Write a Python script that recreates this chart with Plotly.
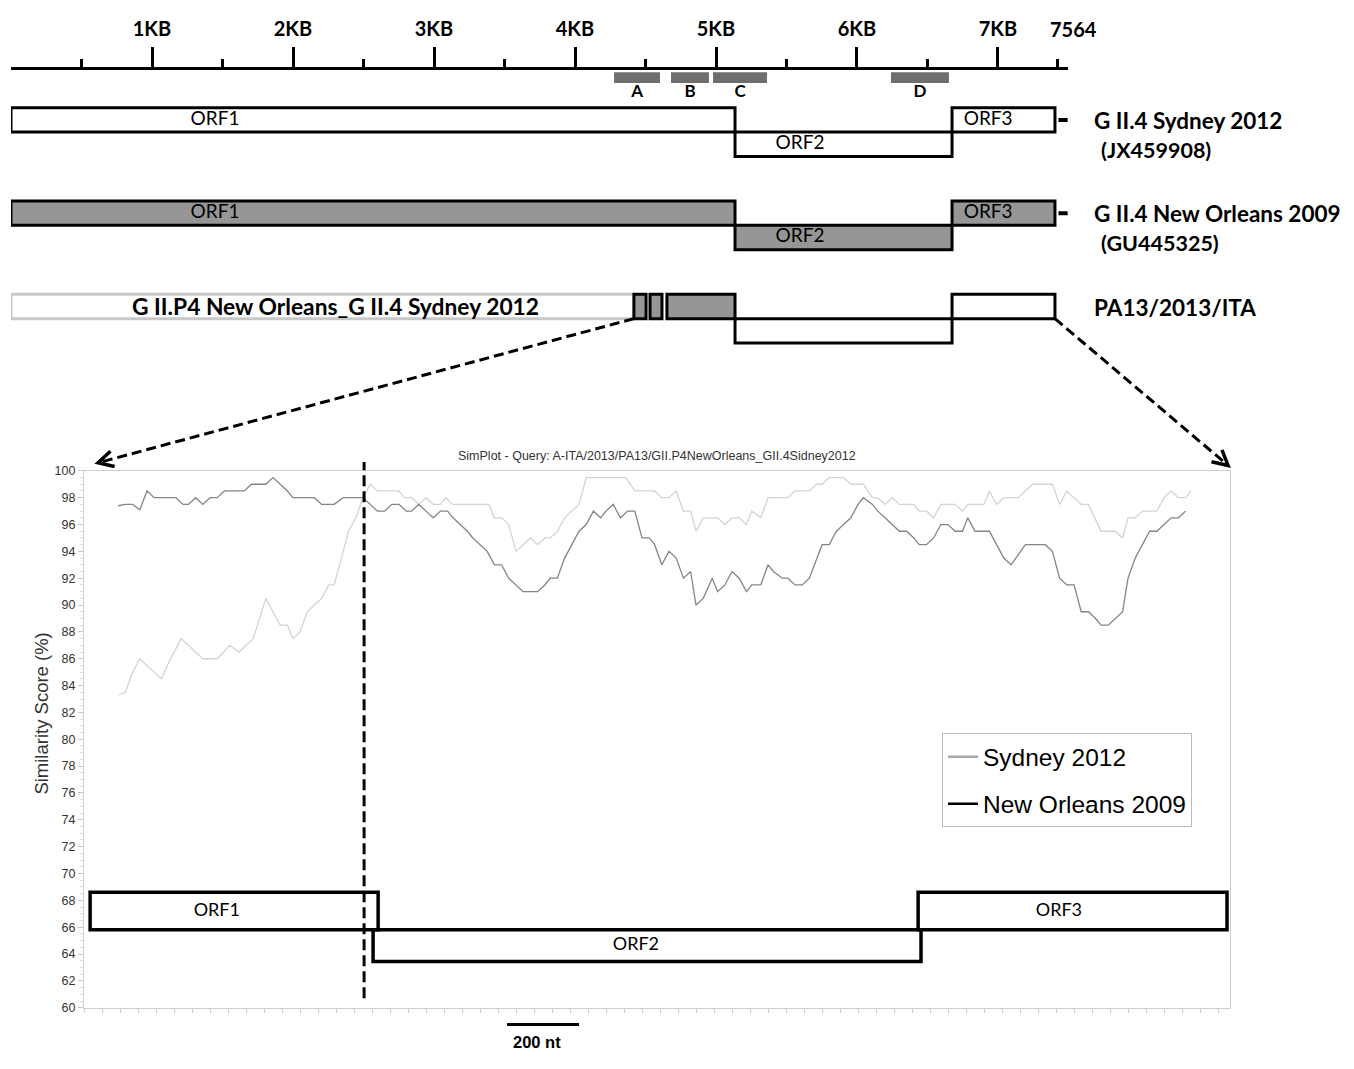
import plotly.graph_objects as go

W, H = 1354, 1069

# ---------------- data ----------------
KB_TICKS = [1000, 2000, 3000, 4000, 5000, 6000, 7000]
KB_LABELS = ["1KB", "2KB", "3KB", "4KB", "5KB", "6KB", "7KB"]
HALF_TICKS = [500, 1500, 2500, 3500, 4500, 5500, 6500, 7420]
GENOME_LEN = 7564

REGION_NAMES = ["A", "B", "C", "D"]
REGION_START = [4277, 4681, 4979, 6241]
REGION_END = [4603, 4950, 5362, 6652]

ORF_NAMES = ["ORF1", "ORF2", "ORF3"]
ORF_START = [0, 5135, 6674]
ORF_END = [5135, 6674, 7404]

STRAINS = ["G II.4 Sydney 2012", "G II.4 New Orleans 2009", "PA13/2013/ITA"]
ACCESSIONS = ["(JX459908)", "(GU445325)", ""]

REC_LABEL = "G II.P4 New Orleans_G II.4 Sydney 2012"
REC_BLOCK_START = [4418, 4532, 4652]
REC_BLOCK_END = [4504, 4617, 5135]

SIM_TITLE = "SimPlot - Query: A-ITA/2013/PA13/GII.P4NewOrleans_GII.4Sidney2012"
SIM_ORF_START = [4397, 5183, 6697]
SIM_ORF_END = [5197, 6705, 7555]
BREAKPOINT = 5158
SCALE_BAR_START = 5555
SCALE_BAR_LEN = 200

sydney_pos = [4475, 4495, 4515, 4535, 4595, 4615, 4650, 4710, 4750, 4785, 4810, 4850, 4885, 4925,
              4945, 4960, 4980, 5000, 5020, 5040, 5060, 5075, 5095, 5115, 5135, 5155, 5175, 5195,
              5235, 5255, 5270, 5290, 5310, 5330, 5350, 5370, 5385, 5405, 5505, 5520, 5540, 5560,
              5580, 5600, 5620, 5640, 5660, 5675, 5695, 5715, 5735, 5755, 5775, 5885, 5910, 5965,
              5985, 6005, 6025, 6045, 6065, 6080, 6100, 6140, 6160, 6180, 6200, 6220, 6235, 6260,
              6280, 6335, 6355, 6395, 6415, 6430, 6450, 6490, 6510, 6545, 6570, 6585, 6605, 6625,
              6645, 6685, 6700, 6720, 6740, 6760, 6800, 6820, 6835, 6880, 6895, 6915, 6935, 6975,
              7015, 7070, 7090, 7110, 7150, 7170, 7205, 7245, 7265, 7280, 7300, 7320, 7360, 7380,
              7400, 7420, 7440, 7455]
sydney_sim = [83.3, 83.5, 85.0, 86.0, 84.5, 85.7, 87.5, 86.0, 86.0, 87.0, 86.5, 87.5, 90.5, 88.5,
              88.5, 87.5, 88.0, 89.5, 90.0, 90.5, 91.5, 91.5, 93.5, 95.5, 96.5, 98.0, 99.0, 98.5,
              98.5, 98.5, 98.0, 98.0, 97.5, 98.0, 97.5, 97.5, 98.0, 97.5, 97.5, 96.5, 96.5, 96.0,
              94.0, 94.5, 95.0, 94.5, 95.0, 95.0, 95.5, 96.5, 97.0, 97.5, 99.5, 99.5, 98.5, 98.5,
              98.0, 98.0, 98.5, 97.0, 97.0, 95.5, 96.5, 96.5, 96.0, 96.5, 96.5, 96.0, 97.0, 96.5,
              98.0, 98.0, 98.5, 98.5, 99.0, 99.0, 99.5, 99.5, 99.0, 99.0, 98.0, 98.0, 97.5, 98.0,
              97.5, 97.5, 97.0, 97.0, 96.5, 97.5, 97.5, 97.0, 97.5, 97.5, 98.5, 97.5, 98.0, 98.0,
              99.0, 99.0, 97.5, 98.5, 97.5, 97.5, 95.5, 95.5, 95.0, 96.5, 96.5, 97.0, 97.0, 98.0,
              98.5, 98.0, 98.0, 98.5]

neworl_pos = [4475, 4495, 4515, 4535, 4555, 4575, 4635, 4655, 4670, 4690, 4710, 4730, 4750, 4770,
              4825, 4845, 4885, 4905, 4925, 4945, 4960, 5020, 5040, 5075, 5100, 5155, 5175, 5195,
              5215, 5235, 5255, 5275, 5290, 5310, 5330, 5350, 5370, 5390, 5405, 5425, 5445, 5460,
              5480, 5500, 5520, 5540, 5560, 5580, 5600, 5640, 5660, 5675, 5695, 5715, 5735, 5755,
              5775, 5795, 5815, 5830, 5850, 5870, 5890, 5910, 5930, 5950, 5965, 5985, 6005, 6025,
              6045, 6065, 6080, 6100, 6125, 6140, 6160, 6180, 6200, 6220, 6235, 6260, 6280, 6295,
              6320, 6335, 6355, 6375, 6395, 6415, 6430, 6450, 6470, 6490, 6510, 6530, 6545, 6570,
              6585, 6605, 6625, 6645, 6665, 6685, 6700, 6720, 6740, 6760, 6780, 6800, 6820, 6835,
              6855, 6895, 6915, 6935, 6955, 6975, 6995, 7050, 7070, 7090, 7110, 7130, 7150, 7170,
              7190, 7205, 7225, 7245, 7265, 7280, 7300, 7320, 7340, 7360, 7380, 7400, 7420, 7440]
neworl_sim = [97.4, 97.5, 97.5, 97.1, 98.5, 98.0, 98.0, 97.5, 97.5, 98.0, 97.5, 98.0, 98.0, 98.5,
              98.5, 99.0, 99.0, 99.5, 99.0, 98.5, 98.0, 98.0, 97.5, 97.5, 98.0, 98.0, 97.5, 97.0,
              97.0, 97.5, 97.5, 97.0, 97.0, 97.5, 97.0, 96.5, 97.0, 97.0, 96.5, 96.0, 95.5, 95.0,
              94.5, 94.0, 93.0, 93.0, 92.0, 91.5, 91.0, 91.0, 91.5, 92.0, 92.0, 93.5, 94.5, 95.5,
              96.0, 97.0, 96.5, 97.0, 97.5, 96.5, 97.0, 97.0, 95.0, 95.0, 94.5, 93.0, 94.0, 93.5,
              92.0, 92.5, 90.0, 90.5, 92.0, 91.0, 91.5, 92.5, 92.0, 91.0, 91.5, 91.5, 93.0, 92.5,
              92.0, 92.0, 91.5, 91.5, 92.0, 93.5, 94.5, 94.5, 95.5, 96.0, 96.5, 97.5, 98.0, 97.5,
              97.0, 96.5, 96.0, 95.5, 95.5, 95.0, 94.5, 94.5, 95.0, 96.0, 96.0, 95.5, 95.5, 96.5,
              95.5, 95.5, 94.5, 93.5, 93.0, 93.8, 94.5, 94.5, 94.0, 92.0, 91.5, 91.5, 89.5, 89.5,
              89.0, 88.5, 88.5, 89.0, 89.5, 92.0, 93.5, 94.5, 95.5, 95.5, 96.0, 96.5, 96.5, 97.0]

# ---------------- layout geometry ----------------
G_XDOM = [11 / W, 1068 / W]
G_XR = [0, 7496.5]
G_YDOM = [1 - 360 / H, 1 - 40 / H]
G_YR = [2.730, -0.656]          # genome-map rows (reversed)
S_XDOM = [84 / W, 1230 / W]
S_XR = [4380, 7563.3]
S_YDOM = [1 - 1014 / H, 1 - 470 / H]
S_YR = [60, 100]

BOX = 0.262          # height of a half-track (row units)
AXIS_Y = -0.423


def lin(v, rng, dom):
    return dom[0] + (v - rng[0]) / (rng[1] - rng[0]) * (dom[1] - dom[0])


def gpx(x, y):   # genome coords -> paper
    return lin(x, G_XR, G_XDOM), lin(y, G_YR, G_YDOM)


def spx(x, y):   # simplot coords -> paper
    return lin(x, S_XR, S_XDOM), lin(y, S_YR, S_YDOM)


LATO = "Lato, Carlito, Calibri, sans-serif"
ARIAL = "Arial, Liberation Sans, sans-serif"
GRAY_FILL = "#969696"

fig = go.Figure()
shapes = []
annotations = []

# ---- region boxes A-D ----
for s, e in zip(REGION_START, REGION_END):
    shapes.append(dict(type="rect", xref="x", yref="y", x0=s, x1=e, y0=-0.381, y1=-0.265,
                       fillcolor="#6e6e6e", line=dict(width=0), layer="below"))
fig.add_trace(go.Scatter(
    x=[(s + e) / 2 for s, e in zip(REGION_START, REGION_END)], y=[-0.165] * 4,
    text=REGION_NAMES, mode="text", textfont=dict(family=LATO, size=17, color="black"),
    texttemplate="<b>%{text}</b>", xaxis="x", yaxis="y", showlegend=False, hoverinfo="skip",
    cliponaxis=False))

ORF_LEVEL = [0, 1, 0]


def orf_rect(row, i, x0, x1, fill, color="black"):
    y0 = row + ORF_LEVEL[i] * BOX
    shapes.append(dict(type="rect", xref="x", yref="y", x0=x0, x1=x1, y0=y0, y1=y0 + BOX,
                       fillcolor=fill, line=dict(color=color, width=3), layer="below"))


# rows 0,1 : reference genomes
for row, fill in [(0, "white"), (1, GRAY_FILL)]:
    for i in [1, 0, 2]:
        orf_rect(row, i, ORF_START[i], ORF_END[i], fill)
    shapes.append(dict(type="line", xref="x", yref="y", x0=ORF_END[2] + 25, x1=ORF_END[2] + 90,
                       y0=row + BOX / 2, y1=row + BOX / 2, line=dict(color="black", width=4),
                       layer="below"))

# row 2 : recombinant
orf_rect(2, 1, ORF_START[1], ORF_END[1], "white")
orf_rect(2, 2, ORF_START[2], ORF_END[2], "white")
orf_rect(2, 0, 0, REC_BLOCK_START[0], "white", color="#c8c8c8")
for s, e in zip(REC_BLOCK_START, REC_BLOCK_END):
    orf_rect(2, 0, s, e, GRAY_FILL)

# ORF labels on genome map
ORF_LABEL_X = [1447, 5596, 6930]
lab_x, lab_y, lab_t = [], [], []
for row in [0, 1]:
    for i in range(3):
        lab_x.append(ORF_LABEL_X[i])
        lab_y.append(row + ORF_LEVEL[i] * BOX + BOX / 2)
        lab_t.append(ORF_NAMES[i])
fig.add_trace(go.Scatter(x=lab_x, y=lab_y, text=lab_t, mode="text",
                         textfont=dict(family=LATO, size=19, color="black"),
                         xaxis="x", yaxis="y", showlegend=False, hoverinfo="skip",
                         cliponaxis=False))

annotations.append(dict(xref="x", yref="y", x=2300, y=2 + BOX / 2, text="<b>" + REC_LABEL + "</b>",
                        showarrow=False, font=dict(family=LATO, size=22.8, color="black")))

# strain labels on the right
for row, (name, acc) in enumerate(zip(STRAINS, ACCESSIONS)):
    px_, py_ = gpx(7665, row + 0.14)
    annotations.append(dict(xref="paper", yref="paper", x=px_, y=py_, xanchor="left",
                            yanchor="middle", text="<b>" + name + "</b>", showarrow=False,
                            font=dict(family=LATO, size=22.5, color="black")))
    if acc:
        px_, py_ = gpx(7715, row + 0.455)
        annotations.append(dict(xref="paper", yref="paper", x=px_, y=py_, xanchor="left",
                                yanchor="middle", text="<b>" + acc + "</b>", showarrow=False,
                                font=dict(family=LATO, size=21.5, color="black")))

# genome length label
px_, py_ = gpx(GENOME_LEN, AXIS_Y)
annotations.append(dict(xref="paper", yref="paper", x=px_ - 4 / W, y=1 - 22 / H, xanchor="center",
                        yanchor="middle", text="<b>%d</b>" % GENOME_LEN, showarrow=False,
                        font=dict(family=LATO, size=20, color="black")))

# ---------------- SimPlot ----------------
fig.add_trace(go.Scatter(x=sydney_pos, y=sydney_sim, mode="lines", xaxis="x2", yaxis="y2",
                         line=dict(color="#d4d4d4", width=1.3), showlegend=False,
                         name="Sydney 2012"))
fig.add_trace(go.Scatter(x=neworl_pos, y=neworl_sim, mode="lines", xaxis="x2", yaxis="y2",
                         line=dict(color="#858585", width=1.3), showlegend=False,
                         name="New Orleans 2009"))
# legend entries
fig.add_trace(go.Scatter(x=[None], y=[None], mode="lines", xaxis="x2", yaxis="y2",
                         line=dict(color="#a8a8a8", width=2.5), name="Sydney 2012",
                         legendgroup="a"))
fig.add_trace(go.Scatter(x=[None], y=[None], mode="lines", xaxis="x2", yaxis="y2",
                         line=dict(color="black", width=2.5), name="New Orleans 2009",
                         legendgroup="b"))

SIM_LEVEL = [(65.8, 68.6), (63.45, 65.8), (65.8, 68.6)]
for i in [1, 0, 2]:
    shapes.append(dict(type="rect", xref="x2", yref="y2", x0=SIM_ORF_START[i], x1=SIM_ORF_END[i],
                       y0=SIM_LEVEL[i][0], y1=SIM_LEVEL[i][1], fillcolor="rgba(0,0,0,0)",
                       line=dict(color="black", width=3.5), layer="above"))
SIM_ORF_LABEL_X = [4749, 5913, 7088]
fig.add_trace(go.Scatter(x=SIM_ORF_LABEL_X, y=[(a + b) / 2 for a, b in SIM_LEVEL],
                         text=ORF_NAMES, mode="text", xaxis="x2", yaxis="y2",
                         textfont=dict(family=LATO, size=18, color="black"),
                         showlegend=False, hoverinfo="skip"))

# breakpoint dashed line
bx, by0 = spx(BREAKPOINT, 60.7)
_, by1 = spx(BREAKPOINT, 100.66)
shapes.append(dict(type="line", xref="paper", yref="paper", x0=bx, x1=bx, y0=by0, y1=by1,
                   line=dict(color="black", width=3, dash="11px,5px"), layer="above"))

# scale bar
sx0, _ = spx(SCALE_BAR_START, 60)
sx1, _ = spx(SCALE_BAR_START + SCALE_BAR_LEN, 60)
shapes.append(dict(type="line", xref="paper", yref="paper", x0=sx0, x1=sx1, y0=1 - 1031 / H,
                   y1=1 - 1031 / H, line=dict(color="black", width=3)))
annotations.append(dict(xref="paper", yref="paper", x=(sx0 + sx1) / 2 - 6 / W, y=1 - 1060 / H,
                        text="<b>%d nt</b>" % SCALE_BAR_LEN, showarrow=False,
                        font=dict(family=ARIAL, size=16.5, color="black")))

# titles
annotations.append(dict(xref="paper", yref="paper", x=(S_XDOM[0] + S_XDOM[1]) / 2, y=1 - 455 / H,
                        text=SIM_TITLE, showarrow=False,
                        font=dict(family=ARIAL, size=12.5, color="#333333")))
annotations.append(dict(xref="paper", yref="paper", x=42 / W, y=1 - 716 / H,
                        xanchor="center", yanchor="middle",
                        text="Similarity Score (%)", textangle=-90, showarrow=False,
                        font=dict(family=ARIAL, size=18.5, color="#333333")))

# connectors (dashed arrows)
CONNECT = [((REC_BLOCK_START[0], 2 + BOX), (4419, 100.6)),
           ((ORF_END[2], 2 + BOX), (7558, 100.4))]
for (tx, ty), (hx, hy) in CONNECT:
    ax_, ay_ = gpx(tx, ty)
    hx_, hy_ = spx(hx, hy)
    shapes.append(dict(type="line", xref="paper", yref="paper", x0=ax_, y0=ay_, x1=hx_, y1=hy_,
                       line=dict(color="black", width=3, dash="10px,5px")))
    # chevron arrow head (computed in pixel space)
    tpx, tpy = ax_ * W, (1 - ay_) * H
    hpx, hpy = hx_ * W, (1 - hy_) * H
    dx, dy = hpx - tpx, hpy - tpy
    n = (dx * dx + dy * dy) ** 0.5
    ux, uy = dx / n, dy / n
    L, Wd = 15, 8
    p1 = (hpx - L * ux + Wd * uy, hpy - L * uy - Wd * ux)
    p2 = (hpx - L * ux - Wd * uy, hpy - L * uy + Wd * ux)
    path = "M %f %f L %f %f L %f %f" % (p1[0] / W, 1 - p1[1] / H, hpx / W, 1 - hpy / H,
                                       p2[0] / W, 1 - p2[1] / H)
    shapes.append(dict(type="path", xref="paper", yref="paper", path=path,
                       line=dict(color="black", width=3.5)))

fig.update_layout(
    width=W, height=H,
    margin=dict(l=0, r=0, t=0, b=0),
    paper_bgcolor="white", plot_bgcolor="rgba(0,0,0,0)",
    shapes=shapes, annotations=annotations,
    xaxis=dict(domain=G_XDOM, range=G_XR, anchor="free", position=lin(AXIS_Y, G_YR, G_YDOM),
               side="top", showline=True, linecolor="black", linewidth=2.5,
               tickmode="array", tickvals=KB_TICKS,
               ticktext=["<b>%s</b>" % t for t in KB_LABELS],
               ticks="outside", ticklen=20, tickwidth=2.5, tickcolor="black",
               ticklabelstandoff=3,
               tickfont=dict(family=LATO, size=20, color="black"),
               minor=dict(tickmode="array", tickvals=HALF_TICKS, ticks="outside", ticklen=8,
                          tickwidth=2.5, tickcolor="black", showgrid=False),
               showgrid=False, zeroline=False, fixedrange=True),
    yaxis=dict(domain=G_YDOM, range=G_YR, visible=False, showgrid=False, zeroline=False),
    xaxis2=dict(domain=S_XDOM, range=S_XR, anchor="y2", showline=True, mirror=True,
                linecolor="#cfcfcf", linewidth=1.2, showticklabels=False, ticks="outside",
                ticklen=4, tickcolor="#cccccc", dtick=50, tick0=4380, showgrid=False,
                zeroline=False),
    yaxis2=dict(domain=S_YDOM, range=S_YR, anchor="x2", showline=True, mirror=True,
                linecolor="#cfcfcf", linewidth=1.2, tickmode="linear", tick0=60, dtick=2,
                ticks="outside", ticklen=5, tickcolor="#c8c8c8",
                tickfont=dict(family=ARIAL, size=12.5, color="#333333"),
                minor=dict(dtick=0.5, ticks="outside", ticklen=3, tickcolor="#dddddd"),
                showgrid=False, zeroline=False),
    legend=dict(x=942 / W, y=1 - 736 / H, xanchor="left", yanchor="top",
                bgcolor="white", bordercolor="#bdbdbd", borderwidth=1,
                font=dict(family=ARIAL, size=24.5, color="black"),
                traceorder="grouped", tracegroupgap=12, itemwidth=30),
    showlegend=True,
)

fig.write_html("out.html", config={"displayModeBar": False},
               post_script="document.body.style.margin='0px';")
